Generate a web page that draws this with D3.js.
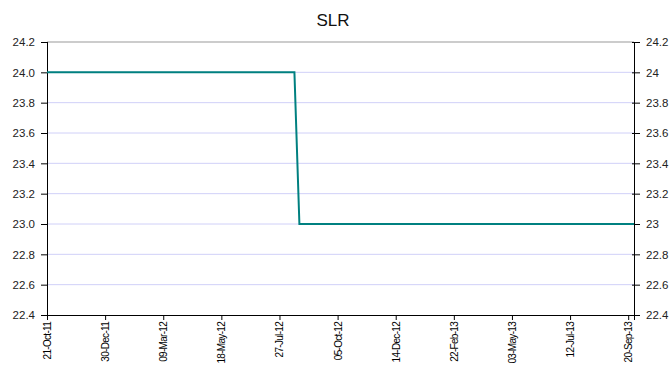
<!DOCTYPE html>
<html>
<head>
<meta charset="utf-8">
<script src="https://cdn.jsdelivr.net/npm/d3@7"></script>
<style>
  body { margin: 0; background: #fff; }
  svg { display: block; font-family: "Liberation Sans", Arial, sans-serif; }
</style>
</head>
<body>
<div id="chart"></div>
<script>
// serie SLR: degrau de 24 para 23 em agosto de 2012
const DATES = ["2011-10-21", "2012-08-14", "2012-08-20", "2013-09-27"];
const VALUES = [24, 24, 23, 23];
const X_TICKS = ["2011-10-21", "2011-12-30", "2012-03-09", "2012-05-18", "2012-07-27", "2012-10-05",
  "2012-12-14", "2013-02-22", "2013-05-03", "2013-07-12", "2013-09-20"];
const Y_TICKS = [22.4, 22.6, 22.8, 23.0, 23.2, 23.4, 23.6, 23.8, 24.0, 24.2];
const TITLE = "SLR";

const W = 672, H = 365;
const m = { top: 42, right: 38, bottom: 50, left: 47 };
const parse = d3.utcParse("%Y-%m-%d");
const fmtDate = d3.utcFormat("%d-%b-%y");

const points = DATES.map((d, i) => ({ date: parse(d), value: VALUES[i] }));

const svg = d3.select("#chart").append("svg").attr("width", W).attr("height", H);

const x = d3.scaleUtc()
  .domain([parse(DATES[0]), parse(DATES[DATES.length - 1])])
  .range([m.left, W - m.right]);
const y = d3.scaleLinear().domain([22.4, 24.2]).range([H - m.bottom, m.top]);

// grade
svg.append("g")
  .selectAll("line")
  .data(Y_TICKS.slice(1))
  .join("line")
  .attr("x1", m.left)
  .attr("x2", W - m.right)
  .attr("y1", (d) => y(d))
  .attr("y2", (d) => y(d))
  .attr("stroke", (d) => (d === 24.2 ? "#999" : "#d0d0f8"))
  .attr("stroke-width", 1);

// eixos
const left = svg.append("g")
  .attr("transform", `translate(${m.left},0)`)
  .call(d3.axisLeft(y).tickValues(Y_TICKS).tickFormat(d3.format(".1f")).tickSize(6).tickPadding(6));
const right = svg.append("g")
  .attr("transform", `translate(${W - m.right},0)`)
  .call(d3.axisRight(y).tickValues(Y_TICKS).tickFormat((d) => String(+d.toFixed(1))).tickSize(6).tickPadding(6));
const bottom = svg.append("g")
  .attr("transform", `translate(0,${H - m.bottom})`)
  .call(d3.axisBottom(x).tickValues(X_TICKS.map(parse)).tickFormat(fmtDate).tickSize(5));

for (const g of [left, right]) {
  g.selectAll("text").attr("font-size", 11.5).attr("fill", "#222").attr("font-family", "Liberation Sans, Arial, sans-serif");
}
left.selectAll(".tick line").attr("x2", -6).attr("x1", 1);
right.selectAll(".tick line").attr("x1", -2);

bottom.selectAll("text")
  .attr("font-size", 10)
  .attr("font-family", "Liberation Sans Narrow, Liberation Sans, Arial, sans-serif")
  .attr("fill", "#000")
  .attr("letter-spacing", -0.7)
  .attr("transform", "rotate(-90)")
  .attr("text-anchor", "end")
  .attr("x", -7)
  .attr("y", 0)
  .attr("dy", "0.35em");

svg.selectAll(".domain").attr("stroke", "#000");
svg.selectAll(".tick line").attr("stroke", "#000");

// serie
svg.append("path")
  .datum(points)
  .attr("fill", "none")
  .attr("stroke", "#008080")
  .attr("stroke-width", 2)
  .attr("d", d3.line().x((d) => x(d.date)).y((d) => y(d.value)));

svg.append("text")
  .attr("x", 333)
  .attr("y", 26)
  .attr("text-anchor", "middle")
  .attr("font-size", 17)
  .attr("fill", "#111")
  .text(TITLE);
</script>
</body>
</html>
